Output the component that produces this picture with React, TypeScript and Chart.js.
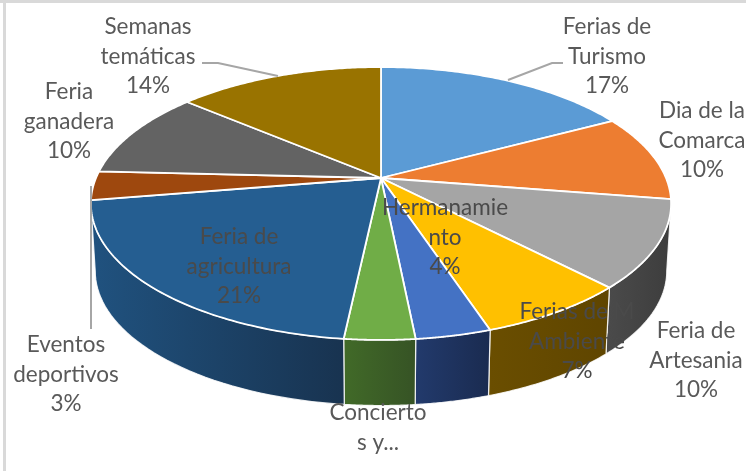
import React, { useEffect, useRef } from "react";
import { Chart, registerables } from "chart.js";

Chart.register(...registerables);

const categories = [
  "Ferias de Turismo", "Dia de la Comarca", "Feria de Artesania", "Ferias de Medio Ambiente",
  "Hermanamiento", "Conciertos y...", "Feria de agricultura", "Eventos deportivos",
  "Feria ganadera", "Semanas temáticas",
];
const values = [17.2, 10.3, 10.3, 7.1, 3.52, 3.28, 20.7, 3.4, 10.4, 13.8];
const topColors = ["#5B9BD5", "#ED7D31", "#A5A5A5", "#FFC000", "#4472C4", "#70AD47", "#255E91", "#9E480E", "#636363", "#997300"];
const wallStart = ["#37648a", "#9a4f1f", "#4a4a4a", "#6a4e00", "#223a6c", "#416a28", "#20527f", "#6a300a", "#404040", "#664d00"];
const wallEnd = ["#37648a", "#9a4f1f", "#3d3d3d", "#5f4500", "#1a2b50", "#365325", "#183350", "#6a300a", "#404040", "#664d00"];
const labelLines = [
  ["Ferias de", "Turismo"], ["Dia de la", "Comarca"], ["Feria de", "Artesania"], ["Ferias de M", "Ambiente"],
  ["Hermanamie", "nto"], ["Concierto", "s y..."], ["Feria de", "agricultura"], ["Eventos", "deportivos"],
  ["Feria", "ganadera"], ["Semanas", "temáticas"],
];
const showPercent = [true, true, true, true, true, false, true, true, true, true];
const labelX = [607, 702, 696, 577, 445, 378, 239, 66, 69, 148];
const labelY = [27, 111, 331, 312, 208, 413, 237, 345, 92, 27];
const overPie = [false, false, false, true, true, false, true, false, false, false];

const CX = 381, CY = 178, R = 285, H = 131.7, K = 0.1868;
const DEPTH = 68, LOWER = 0.985;
const LEADERS = [
  [[508, 80], [552, 63], [563, 63]],
  [[278, 76], [218, 63], [202, 63]],
  [[91, 186], [91, 329]],
];

const project = (t: number, lower = false) => {
  const w = 1 - K * Math.sin(t);
  const s = lower ? LOWER : 1;
  return {
    x: CX + (s * R * Math.cos(t)) / w,
    y: CY + (lower ? DEPTH : 0) + (s * H * Math.sin(t)) / w,
  };
};

const pie3d = {
  id: "pie3d",
  beforeDraw(chart: any) {
    const { ctx } = chart;
    ctx.save();
    ctx.fillStyle = "#d9d9d9";
    ctx.fillRect(0, 0, 746, 3);
    ctx.fillRect(3, 0, 3, 471);
    ctx.restore();
  },
  beforeDatasetDraw(chart: any) {
    const { ctx } = chart;
    const arcs = chart.getDatasetMeta(0).data;
    const t0 = Math.asin(K);
    const t1 = Math.PI - t0;
    ctx.save();
    ctx.lineJoin = "round";
    arcs.forEach((arc: any, i: number) => {
      const a = Math.max(arc.startAngle, t0);
      const b = Math.min(arc.endAngle, t1);
      if (b <= a) return;
      const n = 40;
      ctx.beginPath();
      for (let j = 0; j <= n; j++) {
        const p = project(a + ((b - a) * j) / n);
        j ? ctx.lineTo(p.x, p.y) : ctx.moveTo(p.x, p.y);
      }
      for (let j = n; j >= 0; j--) {
        const p = project(a + ((b - a) * j) / n, true);
        ctx.lineTo(p.x, p.y);
      }
      ctx.closePath();
      const g = ctx.createLinearGradient(project(b).x, 0, project(a).x, 0);
      g.addColorStop(0, wallStart[i]);
      g.addColorStop(1, wallEnd[i]);
      ctx.fillStyle = g;
      ctx.fill();
      ctx.strokeStyle = "rgba(255,255,255,0.85)";
      ctx.lineWidth = 1.2;
      ctx.stroke();
    });
    arcs.forEach((arc: any, i: number) => {
      const a = arc.startAngle, b = arc.endAngle;
      const n = 80;
      ctx.beginPath();
      ctx.moveTo(CX, CY);
      for (let j = 0; j <= n; j++) {
        const p = project(a + ((b - a) * j) / n);
        ctx.lineTo(p.x, p.y);
      }
      ctx.closePath();
      ctx.fillStyle = topColors[i];
      ctx.fill();
      ctx.strokeStyle = "#ffffff";
      ctx.lineWidth = 1.8;
      ctx.stroke();
    });
    ctx.restore();
    return false;
  },
  afterDatasetsDraw(chart: any) {
    const { ctx } = chart;
    const total = values.reduce((s, v) => s + v, 0);
    ctx.save();
    ctx.strokeStyle = "#a6a6a6";
    ctx.lineWidth = 2;
    LEADERS.forEach((pts) => {
      ctx.beginPath();
      pts.forEach((p, j) => (j ? ctx.lineTo(p[0], p[1]) : ctx.moveTo(p[0], p[1])));
      ctx.stroke();
    });
    ctx.font = '22.5px Lato, "Open Sans", sans-serif';
    ctx.textAlign = "center";
    ctx.textBaseline = "middle";
    values.forEach((v, i) => {
      const lines = [...labelLines[i]];
      if (showPercent[i]) lines.push(`${Math.round((v / total) * 100)}%`);
      ctx.fillStyle = overPie[i] ? "#4a4a4a" : "#595959";
      lines.forEach((line, j) => ctx.fillText(line, labelX[i], labelY[i] + j * 29.5));
    });
    ctx.restore();
  },
};

export default function App() {
  const ref = useRef<HTMLCanvasElement | null>(null);
  useEffect(() => {
    const chart = new Chart(ref.current as HTMLCanvasElement, {
      type: "pie",
      data: {
        labels: categories,
        datasets: [{ data: values, backgroundColor: topColors, borderColor: "#ffffff" }],
      },
      options: {
        responsive: false,
        animation: false,
        plugins: { legend: { display: false }, tooltip: { enabled: false } },
      },
      plugins: [pie3d],
    } as any);
    return () => chart.destroy();
  }, []);
  return (
    <div style={{ position: "absolute", left: 0, top: 0, width: 746, height: 471, background: "#ffffff" }}>
      <canvas ref={ref} width={746} height={471} style={{ display: "block" }} />
    </div>
  );
}
